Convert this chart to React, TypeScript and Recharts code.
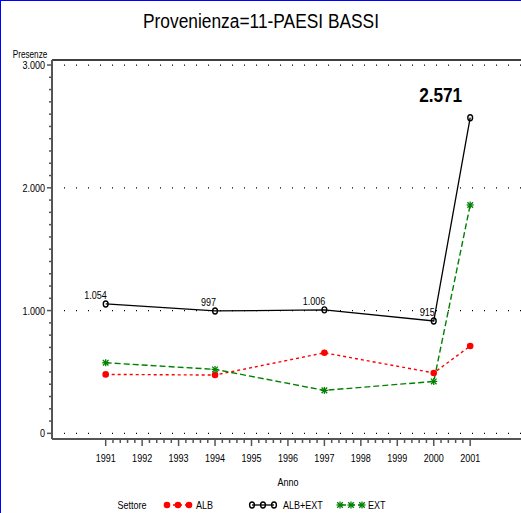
import { LineChart, Line, XAxis, YAxis, ReferenceLine, LabelList } from "recharts";

const anni = [1991, 1994, 1997, 2000, 2001];
const alb = [480, 475, 656, 492, 711];
const albExt = [1054, 997, 1006, 915, 2571];
const ext = [575, 521, 350, 423, 1860];

const yearTicks = [1991, 1992, 1993, 1994, 1995, 1996, 1997, 1998, 1999, 2000, 2001];
const yMajor = [0, 1000, 2000, 3000];

const FONT = "'Liberation Sans', Arial, sans-serif";

const data = anni.map((anno, i) => ({
  anno,
  alb: alb[i],
  albExt: albExt[i],
  ext: ext[i],
}));

// minor ticks every 0.2 year on x, every 100 on y
const xTicks = yearTicks.flatMap((y, i) =>
  i < yearTicks.length - 1 ? [0, 0.2, 0.4, 0.6, 0.8].map((d) => y + d) : [y]
);
const yTicks: number[] = [];
for (let v = 0; v <= 3000; v += 100) yTicks.push(v);

const fmt = (v: number) => {
  const s = Math.round(v).toString();
  return s.length > 3 ? s.slice(0, s.length - 3) + "." + s.slice(-3) : s;
};

// condensed text (like the SAS swiss narrow font)
const NText = (props: any) => {
  const { x, y, anchor = "start", size = 11, bold = false, children } = props;
  return (
    <text
      transform={`translate(${x},${y}) scale(0.82,1)`}
      textAnchor={anchor}
      fontSize={size}
      fontWeight={bold ? "bold" : "normal"}
      fontFamily={FONT}
      fill="#000"
    >
      {children}
    </text>
  );
};

const XTick = (props: any) => {
  const { x, y, payload } = props;
  const major = Math.abs(payload.value - Math.round(payload.value)) < 1e-6;
  return (
    <g>
      <line x1={x} x2={x} y1={y} y2={y + (major ? 7 : 4)} stroke="#555" strokeWidth={1.5} />
      {major && (
        <NText x={x} y={y + 23} anchor="middle" size={11}>
          {Math.round(payload.value)}
        </NText>
      )}
    </g>
  );
};

const YTick = (props: any) => {
  const { x, y, payload } = props;
  const major = payload.value % 1000 === 0;
  return (
    <g>
      <line x1={x - (major ? 5 : 3)} x2={x} y1={y} y2={y} stroke="#555" strokeWidth={1.5} />
      {major && (
        <NText x={x - 7} y={y + 4} anchor="end" size={11}>
          {fmt(payload.value)}
        </NText>
      )}
    </g>
  );
};

const DotAlb = (props: any) => {
  const { cx, cy } = props;
  return <circle cx={cx} cy={cy} r={3.3} fill="#ff0000" stroke="none" />;
};

const DotTot = (props: any) => {
  const { cx, cy } = props;
  return <ellipse cx={cx} cy={cy} rx={2.4} ry={3} fill="none" stroke="#000" strokeWidth={1.4} />;
};

const DotExt = (props: any) => {
  const { cx, cy } = props;
  const r = 3.5;
  return (
    <g stroke="#008000" strokeWidth={1.3}>
      <line x1={cx} x2={cx} y1={cy - r} y2={cy + r} />
      <line x1={cx - r} x2={cx + r} y1={cy} y2={cy} />
      <line x1={cx - r * 0.8} x2={cx + r * 0.8} y1={cy - r * 0.8} y2={cy + r * 0.8} />
      <line x1={cx - r * 0.8} x2={cx + r * 0.8} y1={cy + r * 0.8} y2={cy - r * 0.8} />
    </g>
  );
};

const TotLabel = (props: any) => {
  const { x, y, value, index } = props;
  if (index === anni.length - 1) {
    return (
      <NText x={x - 8} y={y - 16} anchor="end" size={21} bold>
        {fmt(value)}
      </NText>
    );
  }
  return (
    <NText x={x + 1} y={y - 5} anchor="end" size={11}>
      {fmt(value)}
    </NText>
  );
};

const legendItems = [
  { name: "ALB", key: "alb", x: 167, tx: 196 },
  { name: "ALB+EXT", key: "albExt", x: 252, tx: 283 },
  { name: "EXT", key: "ext", x: 340, tx: 368 },
];

export default function App() {
  return (
    <div style={{ position: "absolute", left: 0, top: 0, width: 521, height: 513, background: "#fff", overflow: "hidden" }}>
      <LineChart width={521} height={513} data={data} margin={{ top: 60, right: 0, bottom: 44, left: 0 }}>
        <XAxis
          dataKey="anno"
          type="number"
          height={30}
          domain={[1989.527, 2002.394]}
          ticks={xTicks}
          interval={0}
          tickSize={0}
          tickMargin={0}
          tickLine={false}
          tick={<XTick />}
          axisLine={{ stroke: "#555", strokeWidth: 2 }}
          allowDataOverflow
        />
        <YAxis
          type="number"
          width={52}
          domain={[-46, 3041]}
          ticks={yTicks}
          interval={0}
          tickSize={0}
          tickMargin={0}
          tickLine={false}
          tick={<YTick />}
          axisLine={{ stroke: "#555", strokeWidth: 2 }}
          allowDataOverflow
        />
        <ReferenceLine y={3041} stroke="#000" strokeWidth={1.5} />
        {yMajor.map((v) => (
          <ReferenceLine key={v} y={v} stroke="#000" strokeDasharray="1 11" strokeWidth={1.2} />
        ))}
        <Line
          dataKey="alb"
          stroke="#ff0000"
          strokeWidth={1.4}
          strokeDasharray="3 3"
          dot={<DotAlb />}
          isAnimationActive={false}
        />
        <Line
          dataKey="ext"
          stroke="#008000"
          strokeWidth={1.4}
          strokeDasharray="6 3"
          dot={<DotExt />}
          isAnimationActive={false}
        />
        <Line
          dataKey="albExt"
          stroke="#000"
          strokeWidth={1.3}
          dot={<DotTot />}
          isAnimationActive={false}
        >
          <LabelList dataKey="albExt" content={<TotLabel />} />
        </Line>
      </LineChart>

      <svg style={{ position: "absolute", left: 0, top: 0 }} width={521} height={513}>
        <line x1={0} x2={521} y1={0.5} y2={0.5} stroke="#0000ff" strokeWidth={1} />
        <line x1={0.5} x2={0.5} y1={0} y2={513} stroke="#0000ff" strokeWidth={1} />
        <text
          x={143}
          y={28}
          fontSize={20}
          fontFamily={FONT}
          fill="#000"
          textLength={236}
          lengthAdjust="spacingAndGlyphs"
        >
          Provenienza=11-PAESI BASSI
        </text>
        <NText x={30} y={58} anchor="middle" size={10}>
          Presenze
        </NText>
        <NText x={288} y={486} anchor="middle" size={11}>
          Anno
        </NText>
        <NText x={132} y={509} anchor="middle" size={11}>
          Settore
        </NText>
        {legendItems.map((it) => {
          const cy = 505;
          const xs = [it.x, it.x + 11, it.x + 22];
          return (
            <g key={it.key}>
              {it.key === "alb" && (
                <g>
                  <line x1={xs[0]} x2={xs[2]} y1={cy} y2={cy} stroke="#ff0000" strokeWidth={1.4} strokeDasharray="3 3" />
                  {xs.map((x) => <DotAlb key={x} cx={x} cy={cy} />)}
                </g>
              )}
              {it.key === "albExt" && (
                <g>
                  <line x1={xs[0]} x2={xs[2]} y1={cy} y2={cy} stroke="#000" strokeWidth={1.3} />
                  {xs.map((x) => <DotTot key={x} cx={x} cy={cy} />)}
                </g>
              )}
              {it.key === "ext" && (
                <g>
                  <line x1={xs[0]} x2={xs[2]} y1={cy} y2={cy} stroke="#008000" strokeWidth={1.4} strokeDasharray="6 3" />
                  {xs.map((x) => <DotExt key={x} cx={x} cy={cy} />)}
                </g>
              )}
              <NText x={it.tx} y={509} size={11}>
                {it.name}
              </NText>
            </g>
          );
        })}
      </svg>
    </div>
  );
}
